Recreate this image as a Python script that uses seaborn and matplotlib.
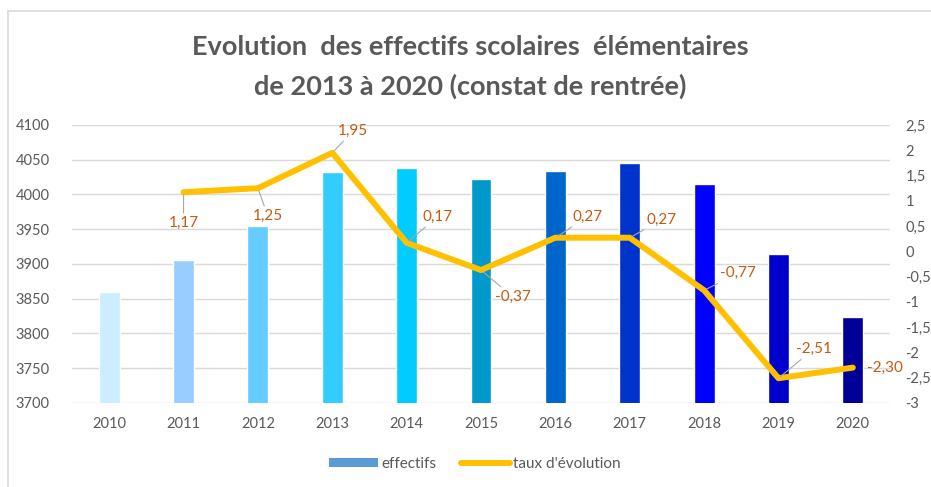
import numpy as np
import pandas as pd
import matplotlib.pyplot as plt
import matplotlib.ticker as mticker
from matplotlib.lines import Line2D
from matplotlib.patches import Patch
import seaborn as sns

# Donnees
annees = ['2010', '2011', '2012', '2013', '2014', '2015', '2016', '2017', '2018', '2019', '2020']
effectifs = [3860, 3906, 3955, 4032, 4038, 4023, 4034, 4045, 4015, 3914, 3824]
annees_taux = ['2011', '2012', '2013', '2014', '2015', '2016', '2017', '2018', '2019', '2020']
taux = [1.17, 1.25, 1.95, 0.17, -0.37, 0.27, 0.27, -0.77, -2.51, -2.30]
couleurs = ['#CCECFF', '#99CCFF', '#66CCFF', '#33CCFF', '#00CCFF', '#0099CC',
            '#0066CC', '#0033CC', '#0000FF', '#0000CC', '#000099']

# decalage des etiquettes (pixels)
decalages = [(0, -31), (10, -28), (21, 22), (31, 26), (32, -27),
             (32, 21), (32, 18), (34, 17), (35, 29), (32, 0)]

gris = '#595959'
sns.set_style('white')
plt.rcParams['font.family'] = ['Lato', 'DejaVu Sans']

df = pd.DataFrame({'annee': annees, 'effectifs': effectifs})
df_taux = pd.DataFrame({'pos': [annees.index(a) for a in annees_taux], 'taux': taux})

fig = plt.figure(figsize=(9.31, 4.87), dpi=100)
ax = fig.add_axes([72 / 931, 1 - 403 / 487, 818 / 931, 278 / 487])

sns.barplot(data=df, x='annee', y='effectifs', hue='annee', palette=couleurs,
            saturation=1, width=0.28, legend=False, ax=ax, zorder=2)
ax.set_ylim(3700, 4100)
ax.set_xlim(-0.5, 10.5)
ax.set_yticks(np.arange(3700, 4101, 50))
ax.grid(axis='y', color='#D9D9D9', linewidth=1, zorder=0)
ax.set_axisbelow(True)
for s in ax.spines.values():
    s.set_visible(False)
ax.set_xlabel('')
ax.set_ylabel('')
ax.tick_params(axis='both', length=0, labelsize=10.5, labelcolor=gris)
ax.tick_params(axis='y', pad=16)
ax.tick_params(axis='x', pad=10)

ax2 = ax.twinx()
sns.lineplot(data=df_taux, x='pos', y='taux', color='#FFC000', linewidth=4.3,
             ax=ax2, zorder=3)
ax2.set_ylim(-3, 2.5)
ax2.set_yticks(np.arange(-3, 2.51, 0.5))
ax2.yaxis.set_major_formatter(mticker.FuncFormatter(
    lambda v, p: ('%g' % v).replace('.', ',')))
for s in ax2.spines.values():
    s.set_visible(False)
ax2.set_ylabel('')
ax2.tick_params(axis='y', length=0, labelsize=10.5, labelcolor=gris, pad=11)

for x, y, t, (dx, dy) in zip(df_taux['pos'], taux, taux, decalages):
    lbl = ('%.2f' % t).replace('.', ',')
    props = None if dx > 30 and dy == 0 else dict(arrowstyle='-', color='#A6A6A6', lw=0.8,
                                                   shrinkA=0, shrinkB=2)
    ax2.annotate(lbl, xy=(x, y), xytext=(dx, dy), textcoords='offset pixels',
                 ha='center', va='center', fontsize=11, color='#C55A11',
                 arrowprops=props, zorder=4)

fig.text(0.505, 1 - 47 / 487, 'Evolution  des effectifs scolaires  élémentaires',
         ha='center', va='center', fontsize=19.5, fontweight='bold', color=gris)
fig.text(0.505, 1 - 86 / 487, 'de 2013 à 2020 (constat de rentrée)',
         ha='center', va='center', fontsize=19.5, fontweight='bold', color=gris)

poignees = [Patch(facecolor='#5B9BD5', edgecolor='none', label='effectifs'),
            Line2D([0], [0], color='#FFC000', linewidth=4.3, label="taux d'évolution")]
fig.legend(handles=poignees, loc='center', bbox_to_anchor=(0.51, 1 - 464 / 487),
           ncol=2, frameon=False, fontsize=11, labelcolor=gris,
           handlelength=3.2, handleheight=0.5, columnspacing=1.6, handletextpad=0.2)

# cadre du graphique
fig.add_artist(Line2D([8 / 931, 8 / 931], [0, 1 - 11 / 487], color='#D9D9D9', lw=1.2))
fig.add_artist(Line2D([8 / 931, 1], [1 - 11 / 487, 1 - 11 / 487], color='#D9D9D9', lw=1.2))

fig.savefig('out.png', dpi=100)
